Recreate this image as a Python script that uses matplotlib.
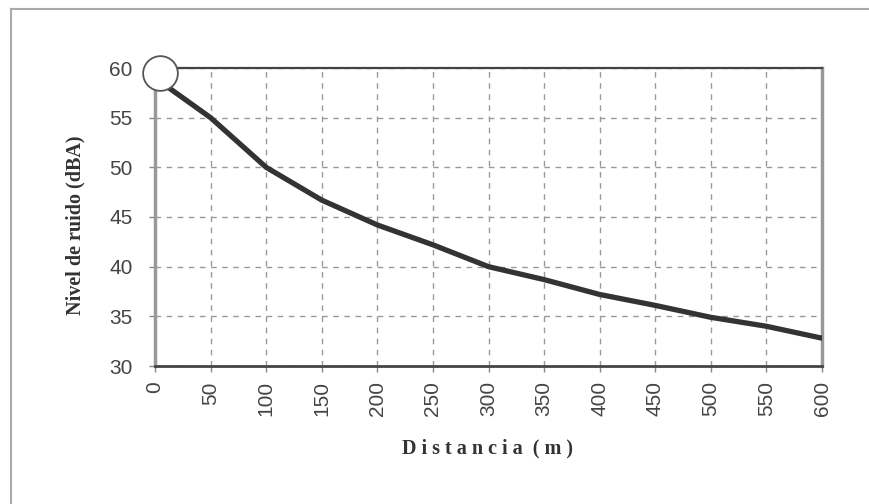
import matplotlib.pyplot as plt
from matplotlib.lines import Line2D

# distance (m) and noise level (dBA)
distancia = [10, 50, 100, 150, 200, 250, 300, 350, 400, 450, 500, 550, 600]
nivel = [58.2, 55.0, 50.0, 46.7, 44.2, 42.2, 40.0, 38.7, 37.2, 36.1, 34.9, 34.0, 32.8]
fuente = (4.5, 59.5)  # circle marking the source

xticks = list(range(0, 601, 50))
yticks = list(range(30, 61, 5))

fig = plt.figure(figsize=(8.69, 5.04), dpi=100)
W, H = 869, 504
ax = fig.add_axes([155 / W, 1 - 366 / H, (822 - 155) / W, (366 - 68) / H])

ax.plot(distancia, nivel, color='#333333', lw=3.8, solid_capstyle='round', zorder=3)
ax.plot([fuente[0]], [fuente[1]], 'o', ms=25, mfc='white', mec='#555555', mew=1.3,
        clip_on=False, zorder=5)

ax.set_xlim(0, 600)
ax.set_ylim(30, 60)
ax.set_xticks(xticks)
ax.set_yticks(yticks)
ax.set_xticklabels([str(v) for v in xticks], rotation=90, fontsize=15,
                   color='#444444', family='Liberation Sans')
ax.set_yticklabels([str(v) for v in yticks], fontsize=15,
                   color='#444444', family='Liberation Sans')
ax.tick_params(axis='both', length=4, color='#888888', width=1)
ax.tick_params(axis='x', pad=7)
ax.tick_params(axis='y', pad=12)

ax.grid(True, color='#999999', linestyle=(0, (4, 4)), lw=1)

ax.spines['top'].set_color('#444444')
ax.spines['bottom'].set_color('#444444')
ax.spines['top'].set_linewidth(1.6)
ax.spines['bottom'].set_linewidth(2)
ax.spines['left'].set_color('#999999')
ax.spines['left'].set_linewidth(2.5)
ax.spines['right'].set_color('#999999')
ax.spines['right'].set_linewidth(2.5)

fig.text(75 / W, 1 - 225 / H, 'Nivel de ruido (dBA)', rotation=90, ha='center',
         va='center', fontsize=14.5, fontweight='bold', family='Liberation Serif',
         color='#333333')
fig.text(488 / W, 1 - 448 / H, 'D i s t a n c i a  ( m )', ha='center', va='center',
         fontsize=14.5, fontweight='bold', family='Liberation Serif', color='#333333')

# outer frame (top and left edges)
fig.add_artist(Line2D([11 / W, 1], [1 - 9 / H, 1 - 9 / H], color='#aaaaaa', lw=1.5))
fig.add_artist(Line2D([11 / W, 11 / W], [0, 1 - 9 / H], color='#aaaaaa', lw=1.5))

fig.savefig('out.png', dpi=100)
